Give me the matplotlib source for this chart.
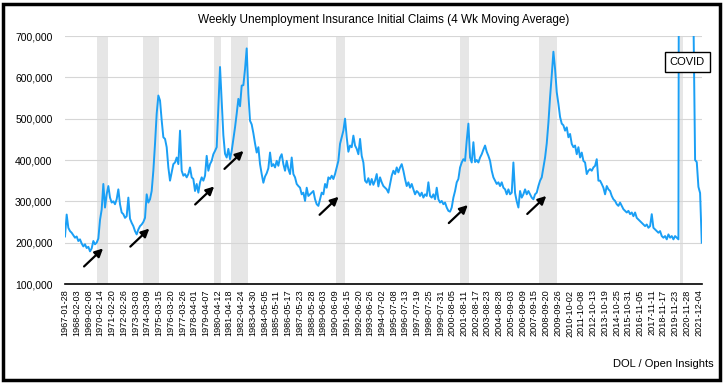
import matplotlib
matplotlib.use("Agg")
import matplotlib.pyplot as plt
from matplotlib.patches import Rectangle
from matplotlib.ticker import FuncFormatter
import pandas as pd

plt.rcParams['font.family'] = ['Liberation Sans', 'DejaVu Sans']

# 4 wk moving average of initial claims, thousands
# (one reading about every 7.5 weeks, starting 1967-01-28)
claims_1967_1978 = [215, 268, 236, 228, 224, 218, 212, 215, 204, 208,
                    198, 191, 196, 187, 190, 179, 186, 204, 196, 200,
                    210, 255, 280, 342, 285, 317, 337, 309, 297, 300,
                    293, 305, 329, 293, 273, 269, 260, 264, 309, 258,
                    248, 240, 228, 220, 232, 240, 244, 250, 260, 317,
                    297, 305, 325, 374, 439, 512, 556, 544, 496, 455,
                    451, 431, 382, 350, 370, 390, 394, 406, 390, 471,
                    374, 362, 366, 358, 366]
claims_1979_1989 = [382, 358, 354, 325, 342, 321, 346, 358, 350, 362,
                    410, 374, 390, 398, 414, 422, 431, 528, 625, 540,
                    460, 415, 406, 427, 402, 422, 451, 479, 512, 548,
                    530, 580, 581, 620, 670, 560, 495, 486, 465, 440,
                    418, 431, 390, 366, 345, 360, 368, 380, 418, 385,
                    390, 382, 398, 386, 406, 414, 390, 374, 398, 378,
                    366, 406, 366, 358, 342, 337, 333, 317, 321, 301,
                    333, 313, 317, 321, 325, 305, 293, 289]
claims_1990_2000 = [305, 321, 317, 342, 333, 358, 354, 362, 354, 366,
                    382, 398, 439, 455, 471, 500, 455, 420, 435, 431,
                    459, 435, 427, 414, 451, 410, 394, 350, 345, 356,
                    340, 354, 340, 350, 366, 336, 358, 346, 337, 333,
                    329, 321, 342, 362, 374, 366, 382, 370, 382, 390,
                    374, 354, 337, 346, 333, 342, 329, 317, 325, 321,
                    313, 321, 309, 317, 313, 346, 313, 309, 317, 305,
                    333, 305, 297, 301, 293, 297, 285, 277]
claims_2001_2011 = [275, 285, 309, 325, 346, 354, 382, 394, 402, 398,
                    447, 488, 406, 394, 443, 395, 400, 394, 406, 414,
                    425, 435, 420, 410, 398, 374, 358, 350, 342, 346,
                    337, 346, 333, 329, 317, 329, 317, 321, 394, 320,
                    300, 285, 325, 309, 317, 329, 317, 325, 317, 309,
                    305, 317, 321, 337, 350, 358, 382, 406, 440, 490,
                    552, 605, 662, 620, 564, 536, 504, 488, 484, 471,
                    479, 455, 463, 439, 431, 435, 414, 431]
claims_2012_2021 = [406, 418, 398, 394, 366, 374, 378, 374, 382, 386,
                    402, 350, 350, 342, 333, 317, 337, 329, 325, 313,
                    305, 301, 293, 289, 297, 289, 281, 277, 273, 277,
                    269, 273, 264, 273, 260, 256, 252, 248, 244, 240,
                    244, 236, 240, 269, 236, 232, 228, 224, 228, 216,
                    212, 216, 208, 220, 212, 216, 208, 216, 212, 208,
                    2800, 2400, 1500, 1300, 1000, 860, 800, 760, 750, 400,
                    395, 335, 320, 200]

recession_start = ['1969-11-01', '1973-10-15', '1979-12-25', '1981-06-25',
                   '1990-07-20', '2001-04-20', '2008-02-01', '2020-04-20']
recession_end = ['1970-11-01', '1975-03-20', '1980-08-10', '1982-12-05',
                 '1991-05-01', '2002-01-10', '2009-09-01', '2020-07-15']

# arrow tips (date, claims)
arrow_dates = ['1970-05-15', '1974-05-17', '1979-12-27', '1982-07-10',
               '1990-10-04', '2001-12-10', '2008-09-24']
arrow_values = [186000, 234000, 336000, 422000, 311000, 291000, 313000]

claims = [v * 1000 for v in claims_1967_1978 + claims_1979_1989 + claims_1990_2000
          + claims_2001_2011 + claims_2012_2021]
dates = pd.date_range('1967-01-28', periods=len(claims), freq=pd.Timedelta(days=52.7))
tick_dates = pd.date_range('1967-01-28', '2021-12-04', freq='371D')

fig = plt.figure(figsize=(7.24, 3.83), dpi=100)
ax = fig.add_axes([65 / 724, 99 / 383, 637 / 724, 248 / 383])

for s, e in zip(recession_start, recession_end):
    ax.axvspan(pd.Timestamp(s), pd.Timestamp(e), color='#e6e6e6', lw=0, zorder=0)

ax.plot(dates, claims, color='#1a9ff5', lw=1.4, zorder=3)

for d, v in zip(arrow_dates, arrow_values):
    ax.annotate('', xy=(pd.Timestamp(d), v), xytext=(-19, -18), textcoords='offset pixels',
                arrowprops=dict(arrowstyle='-|>', color='black', lw=1.6,
                                mutation_scale=12, shrinkA=0, shrinkB=0), zorder=4)

ax.text(pd.Timestamp('2020-12-10'), 638000, 'COVID', ha='center', va='center', fontsize=8,
        bbox=dict(boxstyle='square,pad=0.45', fc='white', ec='black', lw=1),
        clip_on=False, zorder=5)

ax.set_ylim(100000, 700000)
ax.set_yticks(range(100000, 700001, 100000))
ax.yaxis.set_major_formatter(FuncFormatter(lambda v, p: f'{int(v):,}'))
ax.set_xlim(tick_dates[0], tick_dates[0] + pd.Timedelta(days=20139))
ax.set_xticks(tick_dates)
ax.set_xticklabels([d.strftime('%Y-%m-%d') for d in tick_dates], rotation=90, fontsize=6.6)
ax.tick_params(axis='y', length=0, pad=9, labelsize=7.5)
ax.tick_params(axis='x', length=0, pad=4)
ax.yaxis.grid(True, color='#d6d6d6', lw=0.8)
ax.set_axisbelow(True)
for side in ['top', 'right', 'left']:
    ax.spines[side].set_visible(False)
ax.spines['bottom'].set_linewidth(1.2)

ax.set_title('Weekly Unemployment Insurance Initial Claims (4 Wk Moving Average)',
             fontsize=8.5, pad=9)
fig.text(714 / 724, 1 - 364 / 383, 'DOL / Open Insights', ha='right', va='center', fontsize=8)

fig.patches.append(Rectangle((3 / 724, 3.5 / 383), 717 / 724, 376 / 383, transform=fig.transFigure,
                             fill=False, ec='black', lw=2.5))

fig.savefig('out.png', dpi=100)
